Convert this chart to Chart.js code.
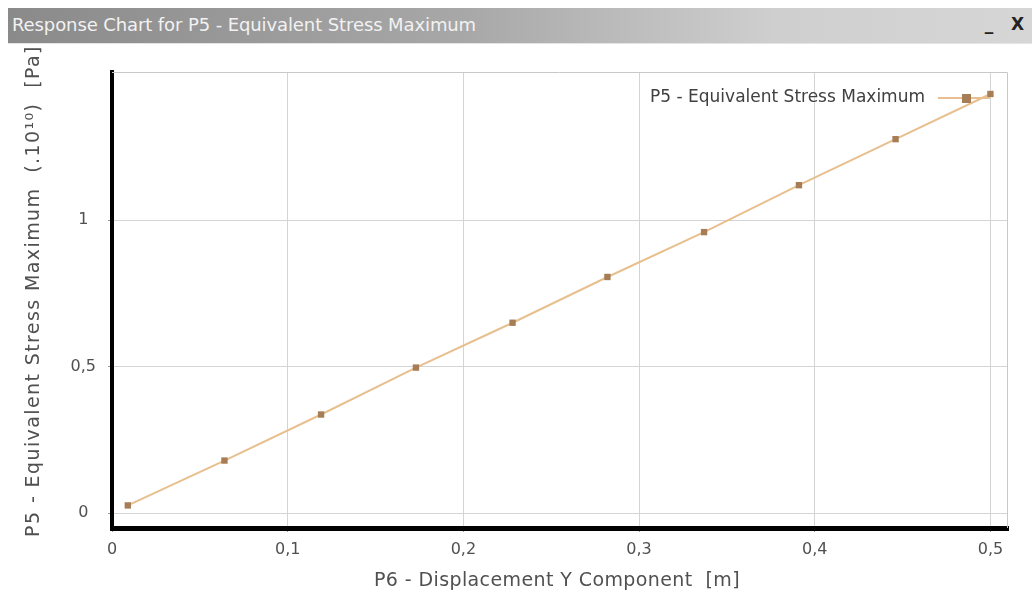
<!DOCTYPE html>
<html>
<head>
<meta charset="utf-8">
<script src="https://cdn.jsdelivr.net/npm/chart.js@4/dist/chart.umd.min.js"></script>
<style>
  html, body { margin: 0; padding: 0; background: #fff; }
  body { width: 1032px; height: 601px; position: relative; overflow: hidden; font-family: "DejaVu Sans", sans-serif; }
  #bar {
    position: absolute; left: 8px; top: 8px; width: 1024px; height: 35px;
    background: linear-gradient(to right, #8a8a8a 0%, #a8a8a8 45%, #cfcfcf 75%, #d6d6d6 100%);
    border-bottom: 1px solid #e4e4e4;
  }
  #bar .t { position: absolute; left: 4px; top: 6px; color: #f2f2f2; font-size: 18px; letter-spacing: -0.1px; }
  #bar .b { position: absolute; right: 8px; top: 6px; color: #222; font-size: 17px; font-weight: bold; }
  #wrap { position: absolute; left: 0; top: 0; width: 1032px; height: 601px; }
</style>
</head>
<body>
<div id="bar"><span class="t">Response Chart for P5 - Equivalent Stress Maximum</span><span class="b">_&nbsp;&nbsp;&nbsp;X</span></div>
<div id="wrap"><canvas id="chart" width="1032" height="601"></canvas></div>
<script>
// ── Datos ──────────────────────────────────────────────────────────────
const SERIE = "P5 - Equivalent Stress Maximum";
const TITULO_X = "P6 - Displacement Y Component  [m]";
const TITULO_Y = "P5 - Equivalent Stress Maximum  (.10¹⁰)  [Pa]";
const dispY = [0.009, 0.064, 0.119, 0.173, 0.228, 0.282, 0.337, 0.391, 0.446, 0.5];
const stress = [0.027, 0.180, 0.337, 0.497, 0.650, 0.806, 0.959, 1.119, 1.276, 1.430];
const xTicks = [0, 0.1, 0.2, 0.3, 0.4, 0.5];
const yTicks = [0, 0.5, 1];

const TXT = "#505050";
const FONT = "'DejaVu Sans', sans-serif";
const coma = (v) => String(v).replace(".", ",");

// ── Plugins ────────────────────────────────────────────────────────────
const marco = {
  id: "marco",
  beforeDatasetsDraw(chart) {
    const { ctx, chartArea: a } = chart;
    ctx.save();
    ctx.strokeStyle = "#c8c8c8";
    ctx.lineWidth = 1;
    ctx.beginPath();
    ctx.moveTo(a.left, a.top + 0.5);
    ctx.lineTo(a.right - 0.5, a.top + 0.5);
    ctx.lineTo(a.right - 0.5, a.bottom);
    ctx.stroke();
    ctx.restore();
  },
};

// titulos de ejes con espaciado de letras
const titulos = {
  id: "titulos",
  afterDraw(chart) {
    const { ctx, chartArea: a } = chart;
    ctx.save();
    ctx.fillStyle = TXT;
    ctx.textAlign = "center";
    ctx.textBaseline = "middle";
    ctx.font = "19px " + FONT;
    ctx.letterSpacing = "0.4px";
    ctx.fillText(TITULO_X, (a.left + a.right) / 2 - 3, 581);
    ctx.letterSpacing = "1.4px";
    ctx.translate(34, 291);
    ctx.rotate(-Math.PI / 2);
    ctx.fillText(TITULO_Y, 0, 0);
    ctx.restore();
  },
};

const leyenda = {
  id: "leyenda",
  afterDatasetsDraw(chart) {
    const { ctx, chartArea: a } = chart;
    const ds = chart.data.datasets[0];
    const y = a.top + 26;
    ctx.save();
    ctx.font = "17px " + FONT;
    ctx.fillStyle = "#404040";
    ctx.textAlign = "right";
    ctx.textBaseline = "middle";
    ctx.fillText(ds.label, a.right - 83, y);
    ctx.strokeStyle = ds.borderColor;
    ctx.lineWidth = 2;
    ctx.beginPath();
    ctx.moveTo(a.right - 70, y);
    ctx.lineTo(a.right - 18, y);
    ctx.stroke();
    ctx.fillStyle = ds.pointBackgroundColor;
    ctx.fillRect(a.right - 46, y - 4, 9, 9);
    ctx.restore();
  },
};

// ── Grafica ────────────────────────────────────────────────────────────
new Chart(document.getElementById("chart"), {
  type: "scatter",
  data: {
    datasets: [{
      label: SERIE,
      data: dispY.map((x, i) => ({ x, y: stress[i] })),
      showLine: true,
      borderColor: "#e8bf8e",
      borderWidth: 2,
      pointStyle: "rect",
      pointRadius: 4.5,
      pointBackgroundColor: "#a67d55",
      pointBorderColor: "#a67d55",
      pointBorderWidth: 0,
    }],
  },
  options: {
    responsive: false,
    animation: false,
    layout: { padding: { left: 28, right: 24, top: 72, bottom: 6 } },
    plugins: { legend: { display: false }, tooltip: { enabled: false } },
    scales: {
      x: {
        type: "linear",
        min: 0,
        max: 0.51,
        afterBuildTicks: (s) => { s.ticks = xTicks.map((value) => ({ value })); },
        afterFit: (s) => { s.height = 67; },
        grid: { color: "#d4d4d4", tickColor: "#9a9a9a", tickLength: 4 },
        border: { color: "#000", width: 5 },
        ticks: { color: TXT, font: { family: FONT, size: 16 }, padding: 8, maxRotation: 0, callback: (v) => coma(v) },
      },
      y: {
        type: "linear",
        min: -0.05,
        max: 1.505,
        afterBuildTicks: (s) => { s.ticks = yTicks.map((value) => ({ value })); },
        afterFit: (s) => { s.width = 84; },
        grid: { color: "#d4d4d4", tickColor: "#9a9a9a", tickLength: 4 },
        border: { color: "#000", width: 4 },
        ticks: { color: TXT, font: { family: FONT, size: 16 }, padding: 12, crossAlign: "center", callback: (v) => coma(v) },
      },
    },
  },
  plugins: [marco, leyenda, titulos],
});
</script>
</body>
</html>
